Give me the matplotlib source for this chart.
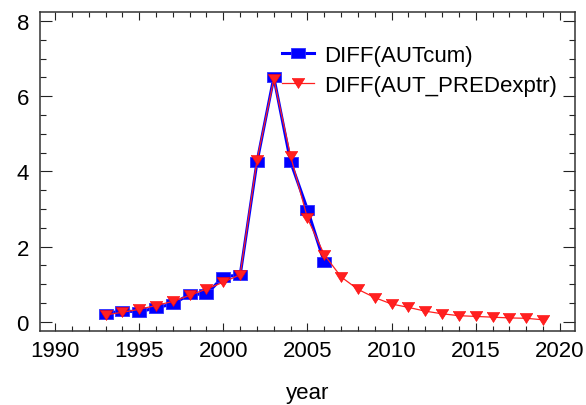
import matplotlib
matplotlib.use('Agg')
import matplotlib.pyplot as plt
from matplotlib.ticker import MultipleLocator

plt.rcParams['font.family'] = ['Liberation Sans', 'DejaVu Sans']

# observed series (blue squares)
years_cum = list(range(1993, 2007))
aut_cum = [0.21, 0.29, 0.26, 0.37, 0.47, 0.73, 0.73, 1.20, 1.24, 4.25, 6.50, 4.25, 2.98, 1.58]

# predicted series (red triangles)
years_pred = list(range(1993, 2020))
aut_pred = [0.18, 0.25, 0.33, 0.43, 0.54, 0.70, 0.87, 1.05, 1.25, 4.30, 6.45, 4.40, 2.75, 1.78,
            1.19, 0.86, 0.64, 0.47, 0.38, 0.28, 0.21, 0.16, 0.14, 0.12, 0.10, 0.09, 0.05]

labels = ['DIFF(AUTcum)', 'DIFF(AUT_PREDexptr)']

# the source picture is stretched sideways, so markers are wider than tall
sq = [(-1, -0.79), (1, -0.79), (1, 0.79), (-1, 0.79), (-1, -0.79)]
tri = [(-1, 0.8), (1, 0.8), (0, -0.8), (-1, 0.8)]

fs = 16

fig = plt.figure(figsize=(5.86, 4.06), dpi=100)
ax = fig.add_axes([0.0683, 0.183, 0.9137, 0.784])

ax.plot(years_cum, aut_cum, color='#0000ff', lw=2.2, marker=sq, ms=9.6,
        mec='#3030ff', mew=0.6, label=labels[0], zorder=2)
ax.plot(years_pred, aut_pred, color='#ff2020', lw=0.9, marker=tri, ms=9.0,
        mec='#ff0000', mew=0.4, label=labels[1], zorder=3)

ax.set_xlim(1989.11, 2020.92)
ax.set_ylim(-0.24, 8.23)
ax.set_xticks([1990, 1995, 2000, 2005, 2010, 2015, 2020])
ax.set_yticks([0, 2, 4, 6, 8])
ax.xaxis.set_minor_locator(MultipleLocator(1))
ax.yaxis.set_minor_locator(MultipleLocator(0.5))

ax.tick_params(axis='both', which='both', direction='in', top=True, right=True,
               width=0.8, color='#222222', labelsize=fs)
ax.tick_params(axis='x', which='major', length=6, pad=7)
ax.tick_params(axis='x', which='minor', length=3.6)
ax.tick_params(axis='y', which='major', length=8.5, pad=8)
ax.tick_params(axis='y', which='minor', length=4.5)
for s in ax.spines.values():
    s.set_linewidth(1.1)
    s.set_color('#333333')

ax.set_xlabel('year', fontsize=fs, labelpad=15)

ax.legend(loc='upper left', bbox_to_anchor=(0.452, 0.898), frameon=False,
          fontsize=fs, numpoints=1, handlelength=1.45, handletextpad=0.45,
          borderpad=0, borderaxespad=0, labelspacing=0.4)

fig.savefig('out.png', dpi=100)
